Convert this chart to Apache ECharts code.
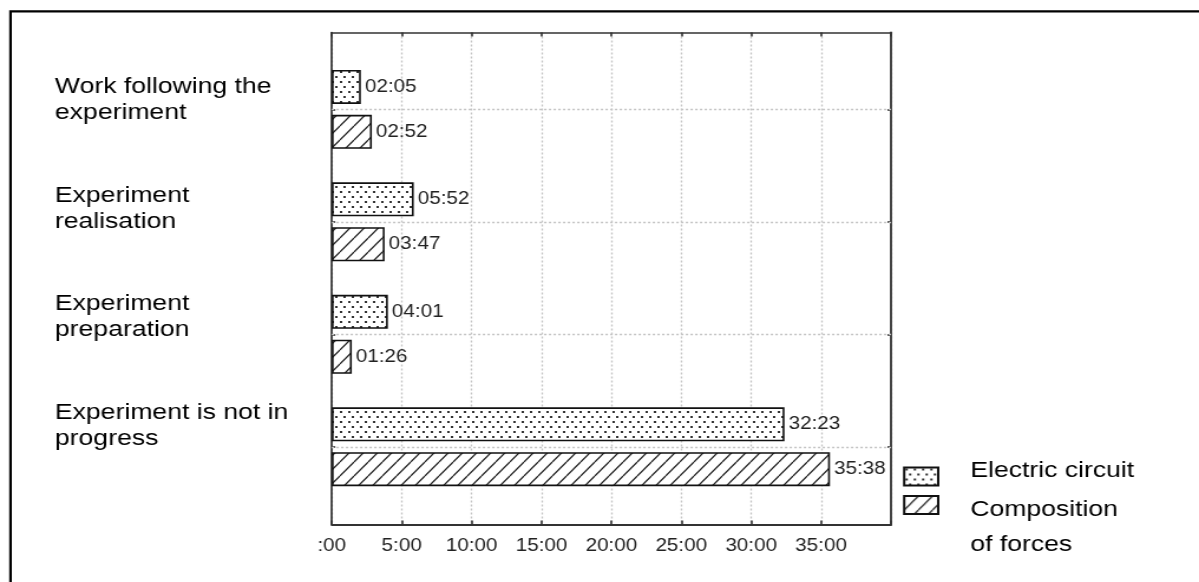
<!DOCTYPE html>
<html><head><meta charset="utf-8">
<script src="https://cdn.jsdelivr.net/npm/echarts@6/dist/echarts.min.js"></script>
<style>
html,body{margin:0;padding:0;background:#fff;overflow:hidden;width:1199px;height:582px}
#chart{width:1016px;height:582px;transform:scaleX(1.18012);transform-origin:0 0;}
</style></head><body><div id="chart"></div>
<script>
// ---- data ----
const categories = ['Work following the\nexperiment', 'Experiment\nrealisation', 'Experiment\npreparation', 'Experiment is not in\nprogress'];
const seriesNames = ['Electric circuit', 'Composition of forces'];
const legendLabels = ['Electric circuit', ['Composition', 'of forces']];
const electricTimes = ['02:05', '05:52', '04:01', '32:23'];
const compositionTimes = ['02:52', '03:47', '01:26', '35:38'];
const xTickLabels = [':00', '5:00', '10:00', '15:00', '20:00', '25:00', '30:00', '35:00', ''];

function toMinutes(s) { const p = s.split(':').map(Number); return p[0] + p[1] / 60; }

const FONT = "'Liberation Sans', Arial, sans-serif";

function dotPattern() {
  const c = document.createElement('canvas'); c.width = 7; c.height = 10;
  const g = c.getContext('2d');
  g.fillStyle = '#fff'; g.fillRect(0, 0, 7, 10);
  g.fillStyle = '#333';
  g.fillRect(1, 1, 2, 2); g.fillRect(4, 6, 2, 2);
  return c;
}
function hatchPattern() {
  const w = 12, h = 14;
  const c = document.createElement('canvas'); c.width = w; c.height = h;
  const g = c.getContext('2d');
  g.fillStyle = '#fff'; g.fillRect(0, 0, w, h);
  g.strokeStyle = '#222'; g.lineWidth = 1.3;
  g.beginPath();
  for (const k of [-1, 0, 1]) { g.moveTo(k * w, h); g.lineTo(k * w + w, 0); }
  g.stroke();
  return c;
}

const chart = echarts.init(document.getElementById('chart'));
const gridLine = { color: '#c4c4c4', type: [2, 2], width: 1.3 };
const frameLeft = 281.1, frameWidth = 473.9;
const legendText = { fontSize: 22.5, color: '#000', fontFamily: FONT };

const option = {
  animation: false,
  backgroundColor: '#fff',
  textStyle: { fontFamily: FONT },
  graphic: [{
    type: 'rect', silent: true, z: -10,
    shape: { x: 8.9, y: 11.3, width: 1200, height: 800 },
    style: { fill: 'none', stroke: '#000', lineWidth: 2.2 }
  }],
  grid: [
    { left: frameLeft, width: frameWidth, top: 32.5, height: 492 },
    { left: frameLeft, width: frameWidth, top: 53.1, height: 449.9 },
    { left: frameLeft, width: frameWidth, top: 45.75, height: 434 }
  ],
  xAxis: [
    { gridIndex: 0, type: 'value', position: 'bottom', min: 0, max: 40, interval: 5,
      axisLine: { show: true, onZero: false, lineStyle: { color: '#333', width: 2 } },
      axisTick: { show: true, inside: true, length: 4, lineStyle: { color: '#333', width: 1.6 } },
      splitLine: { show: true, lineStyle: gridLine },
      axisLabel: { margin: 13, fontSize: 17.5, color: '#222', fontFamily: FONT,
        formatter: v => xTickLabels[Math.round(v / 5)] } },
    { gridIndex: 0, type: 'value', position: 'top', min: 0, max: 40, interval: 5,
      axisLine: { show: true, onZero: false, lineStyle: { color: '#333', width: 1.6 } },
      axisTick: { show: true, inside: true, length: 4, lineStyle: { color: '#333', width: 1.6 } },
      splitLine: { show: false }, axisLabel: { show: false } },
    { gridIndex: 1, type: 'value', min: 0, max: 40, show: false },
    { gridIndex: 2, type: 'value', min: 0, max: 40, show: false }
  ],
  yAxis: [
    { gridIndex: 0, type: 'value', min: 0, max: 1, position: 'left',
      axisLine: { show: true, onZero: false, lineStyle: { color: '#222', width: 1.6 } },
      axisTick: { show: false }, axisLabel: { show: false }, splitLine: { show: false } },
    { gridIndex: 0, type: 'value', min: 0, max: 1, position: 'right',
      axisLine: { show: true, onZero: false, lineStyle: { color: '#444', width: 2 } },
      axisTick: { show: false }, axisLabel: { show: false }, splitLine: { show: false } },
    { gridIndex: 1, type: 'category', data: categories, inverse: true, position: 'left',
      axisLine: { show: false, onZero: false }, axisLabel: { show: false }, splitLine: { show: false },
      axisTick: { show: true, inside: true, alignWithLabel: true, length: 3, lineStyle: { color: '#222', width: 1.5 } } },
    { gridIndex: 1, type: 'category', data: categories, inverse: true, position: 'right',
      axisLine: { show: false, onZero: false }, axisLabel: { show: false }, splitLine: { show: false },
      axisTick: { show: true, inside: true, alignWithLabel: true, length: 3, lineStyle: { color: '#222', width: 1.5 } } },
    { gridIndex: 2, type: 'category', data: categories, inverse: true, position: 'left',
      axisLine: { show: false }, axisTick: { show: false }, splitLine: { show: false },
      axisLabel: { show: true, align: 'left', margin: 234.5, fontSize: 22.5, lineHeight: 26,
        color: '#000', fontFamily: FONT } }
  ],
  legend: [
    { data: [seriesNames[0]], orient: 'vertical', left: 765.2, top: 459, padding: 0,
      itemWidth: 28.8, itemHeight: 18, selectedMode: false, icon: 'rect',
      formatter: () => '{b|' + legendLabels[0] + '}\n{a| }',
      textStyle: { padding: [0, 0, 0, 22.2],
        rich: { b: Object.assign({ lineHeight: 26 }, legendText), a: { fontSize: 10, lineHeight: 12 } } } },
    { data: [seriesNames[1]], orient: 'vertical', left: 765.2, top: 465, padding: 0,
      itemWidth: 28.8, itemHeight: 18, selectedMode: false, icon: 'rect',
      formatter: () => '{a| }\n' + legendLabels[1].map(t => '{b|' + t + '}').join('\n'),
      textStyle: { padding: [0, 0, 0, 22.2],
        rich: { b: Object.assign({ lineHeight: 35 }, legendText), a: { fontSize: 10, lineHeight: 44 } } } }
  ],
  series: [
    { name: seriesNames[0], type: 'bar', xAxisIndex: 2, yAxisIndex: 2,
      data: electricTimes.map(toMinutes), barWidth: 34, barGap: '32%',
      itemStyle: { color: { image: dotPattern(), repeat: 'repeat' }, borderColor: '#111', borderWidth: 1.6 },
      label: { show: true, position: 'right', distance: 3.4, fontSize: 17.5, color: '#222', fontFamily: FONT,
        formatter: p => electricTimes[p.dataIndex] } },
    { name: seriesNames[1], type: 'bar', xAxisIndex: 2, yAxisIndex: 2,
      data: compositionTimes.map(toMinutes), barWidth: 34, barGap: '32%',
      itemStyle: { color: { image: hatchPattern(), repeat: 'repeat' }, borderColor: '#111', borderWidth: 1.6 },
      label: { show: true, position: 'right', distance: 3.4, fontSize: 17.5, color: '#222', fontFamily: FONT,
        formatter: p => compositionTimes[p.dataIndex] } },
    { name: 'category gridlines', type: 'line', xAxisIndex: 2, yAxisIndex: 2, data: [], silent: true,
      markLine: { silent: true, symbol: ['none', 'none'], label: { show: false },
        lineStyle: gridLine, emphasis: { disabled: true },
        data: categories.map(c => ({ yAxis: c })) } }
  ]
};
chart.setOption(option);
</script></body></html>
